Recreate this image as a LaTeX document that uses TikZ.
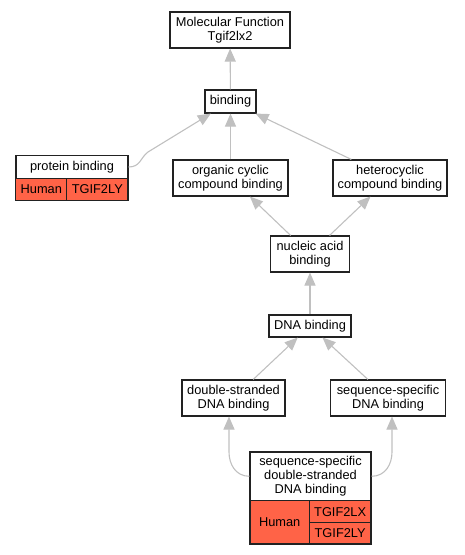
\documentclass[tikz,border=0pt]{standalone}
\usepackage{fontspec}
\setmainfont{Liberation Sans}
\usetikzlibrary{arrows.meta}
\definecolor{edgegray}{HTML}{C0C0C0}
\definecolor{tomato}{HTML}{FF6347}
\definecolor{boxline}{HTML}{222222}
\newcommand{\fs}{\fontsize{12.8}{14}\selectfont}
\tikzset{
  gobox/.style={draw=boxline, line width=1.1pt, fill=white, inner sep=0pt, align=center, font=\fs},
  cell/.style={draw=boxline, line width=1.1pt, fill=tomato, inner sep=0pt, align=center, font=\fs},
  isa/.style={draw=edgegray, line width=1.1pt, -{Triangle[length=13pt,width=11pt]}}
}
\begin{document}
\begin{tikzpicture}[x=1pt,y=-1pt]
\useasboundingbox (0,0) rectangle (464,555);
% nodes
\node[gobox, minimum width=120pt, minimum height=36pt] (mf) at (230,30) {Molecular Function\\Tgif2lx2};
\node[gobox, minimum width=51pt, minimum height=23pt] (bind) at (230.5,101.5) {binding};
\node[gobox, minimum width=112pt, minimum height=23pt] (pb) at (72,167) {protein binding};
\node[cell, minimum width=51pt, minimum height=22pt] (pbh) at (41.3,189.3) {Human};
\node[cell, minimum width=61.3pt, minimum height=22pt] (pbg) at (97.3,189.3) {TGIF2LY};
\node[gobox, minimum width=115pt, minimum height=36pt] (oc) at (230.5,178) {organic cyclic\\compound binding};
\node[gobox, minimum width=114pt, minimum height=36pt] (hc) at (390,178) {heterocyclic\\compound binding};
\node[gobox, minimum width=79pt, minimum height=36pt] (na) at (310,254) {nucleic acid\\binding};
\node[gobox, minimum width=82pt, minimum height=22pt] (dna) at (310,326) {DNA binding};
\node[gobox, minimum width=103pt, minimum height=36pt] (ds) at (233.5,398) {double-stranded\\DNA binding};
\node[gobox, minimum width=115pt, minimum height=36pt] (ss) at (388,398) {sequence-specific\\DNA binding};
\node[gobox, minimum width=121pt, minimum height=48.7pt] (sd) at (310.5,476.3) {sequence-specific\\double-stranded\\DNA binding};
\node[cell, minimum width=59.3pt, minimum height=43.3pt] (sdh) at (279.65,522.35) {Human};
\node[cell, minimum width=61.7pt, minimum height=22pt] (sdg1) at (340.15,511.7) {TGIF2LX};
\node[cell, minimum width=61.7pt, minimum height=21.3pt] (sdg2) at (340.15,533.35) {TGIF2LY};
% helper coordinates
\coordinate (c1) at (148,152);
\coordinate (c2) at (229,452);
\coordinate (c3) at (392,452);
% edges
\draw[isa] (bind) -- (mf);
\draw[isa] (oc) -- (bind);
\draw[isa] (hc) -- (bind);
\draw[isa] (pb.east) .. controls +(12,0) and +(-8,6) .. (c1) -- (bind);
\draw[isa] (na) -- (oc);
\draw[isa] (na) -- (hc);
\draw[isa] (dna) -- (na);
\draw[isa] (ds) -- (dna);
\draw[isa] (ss) -- (dna);
\draw[isa] (sd.west) .. controls +(-14,0) and +(0,12) .. (c2) -- (c2 |- ds.south);
\draw[isa] (sd.east) .. controls +(14,0) and +(0,12) .. (c3) -- (c3 |- ss.south);
\end{tikzpicture}
\end{document}
